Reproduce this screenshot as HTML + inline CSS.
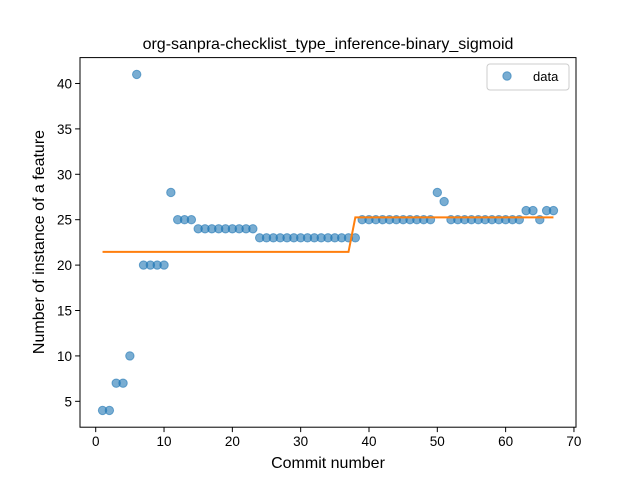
<!DOCTYPE html>
<html><head><meta charset="utf-8"><style>
html,body{margin:0;padding:0;background:#fff;}
svg{display:block;font-family:"Liberation Sans","DejaVu Sans",sans-serif;}
</style></head><body>
<svg id="chart" width="640" height="480" viewBox="0 0 640 480">
<rect width="640" height="480" fill="#fff"/>
<text x="328" y="49" text-anchor="middle" font-size="16">org-sanpra-checklist_type_inference-binary_sigmoid</text>
<g id="ticks"></g>
<g id="marks"></g>
<rect x="80" y="57.6" width="496" height="369.6" fill="none" stroke="#000" stroke-width="1"/>
<text x="328" y="468" text-anchor="middle" font-size="16">Commit number</text>
<text transform="translate(44,242) rotate(-90)" text-anchor="middle" font-size="16">Number of instance of a feature</text>
<g>
<rect x="487" y="64" width="82" height="26" rx="3" fill="#fff" stroke="#ccc"/>
<circle cx="507" cy="76" r="4.2" fill="#1f77b4" fill-opacity="0.6" stroke="#1f77b4" stroke-opacity="0.6"/>
<text x="533" y="81" font-size="13">data</text>
</g>
</svg>
<script>
const commits = [];
for (let i = 1; i <= 67; i++) commits.push(i);
const counts = [4,4,7,7,10,41,20,20,20,20,28,25,25,25,24,24,24,24,24,24,24,24,24,23,23,23,23,23,23,23,23,23,23,23,23,23,23,23,25,25,25,25,25,25,25,25,25,25,25,28,27,25,25,25,25,25,25,25,25,25,25,25,26,26,25,26,26];
const fitX = [1,37,38,67];
const fitY = [21.45,21.45,25.25,25.25];
const xTicks = [0,10,20,30,40,50,60,70];
const yTicks = [5,10,15,20,25,30,35,40];
const xMin=-2.3,xMax=70.3,yMin=2.15,yMax=42.85;
const L=80,R=576,T=57.6,B=427.2;
const sx=v=>L+(v-xMin)/(xMax-xMin)*(R-L);
const sy=v=>B-(v-yMin)/(yMax-yMin)*(B-T);
const NS='http://www.w3.org/2000/svg';
const ticks=document.getElementById('ticks');
const marks=document.getElementById('marks');
function mk(tag,attrs,parent){const e=document.createElementNS(NS,tag);for(const k in attrs)e.setAttribute(k,attrs[k]);parent.appendChild(e);return e;}
xTicks.forEach(t=>{
  const l=mk('line',{x1:sx(t),x2:sx(t),y1:B,y2:B+4.9,stroke:'#000'},ticks);
  
  
  const tx=mk('text',{x:sx(t),y:B+19,'text-anchor':'middle','font-size':'13.5'},ticks);
  tx.textContent=t;
  
  
});
yTicks.forEach(t=>{
  const l=mk('line',{x1:L-4.9,x2:L,y1:sy(t),y2:sy(t),stroke:'#000'},ticks);
  
  
  const tx=mk('text',{x:L-8,y:sy(t)+5,'text-anchor':'end','font-size':'13.5'},ticks);
  tx.textContent=t;
  
  
});
commits.forEach((c,i)=>{
  const p=mk('circle',{cx:sx(c),cy:sy(counts[i]),r:4.2,fill:'#1f77b4','fill-opacity':0.6,stroke:'#1f77b4','stroke-opacity':0.6},marks);
  
  
});
const pts=fitX.map((x,i)=>sx(x)+','+sy(fitY[i])).join(' ');
const fl=mk('polyline',{points:pts,fill:'none',stroke:'#ff7f0e','stroke-width':2},marks);


</script>
</body></html>
